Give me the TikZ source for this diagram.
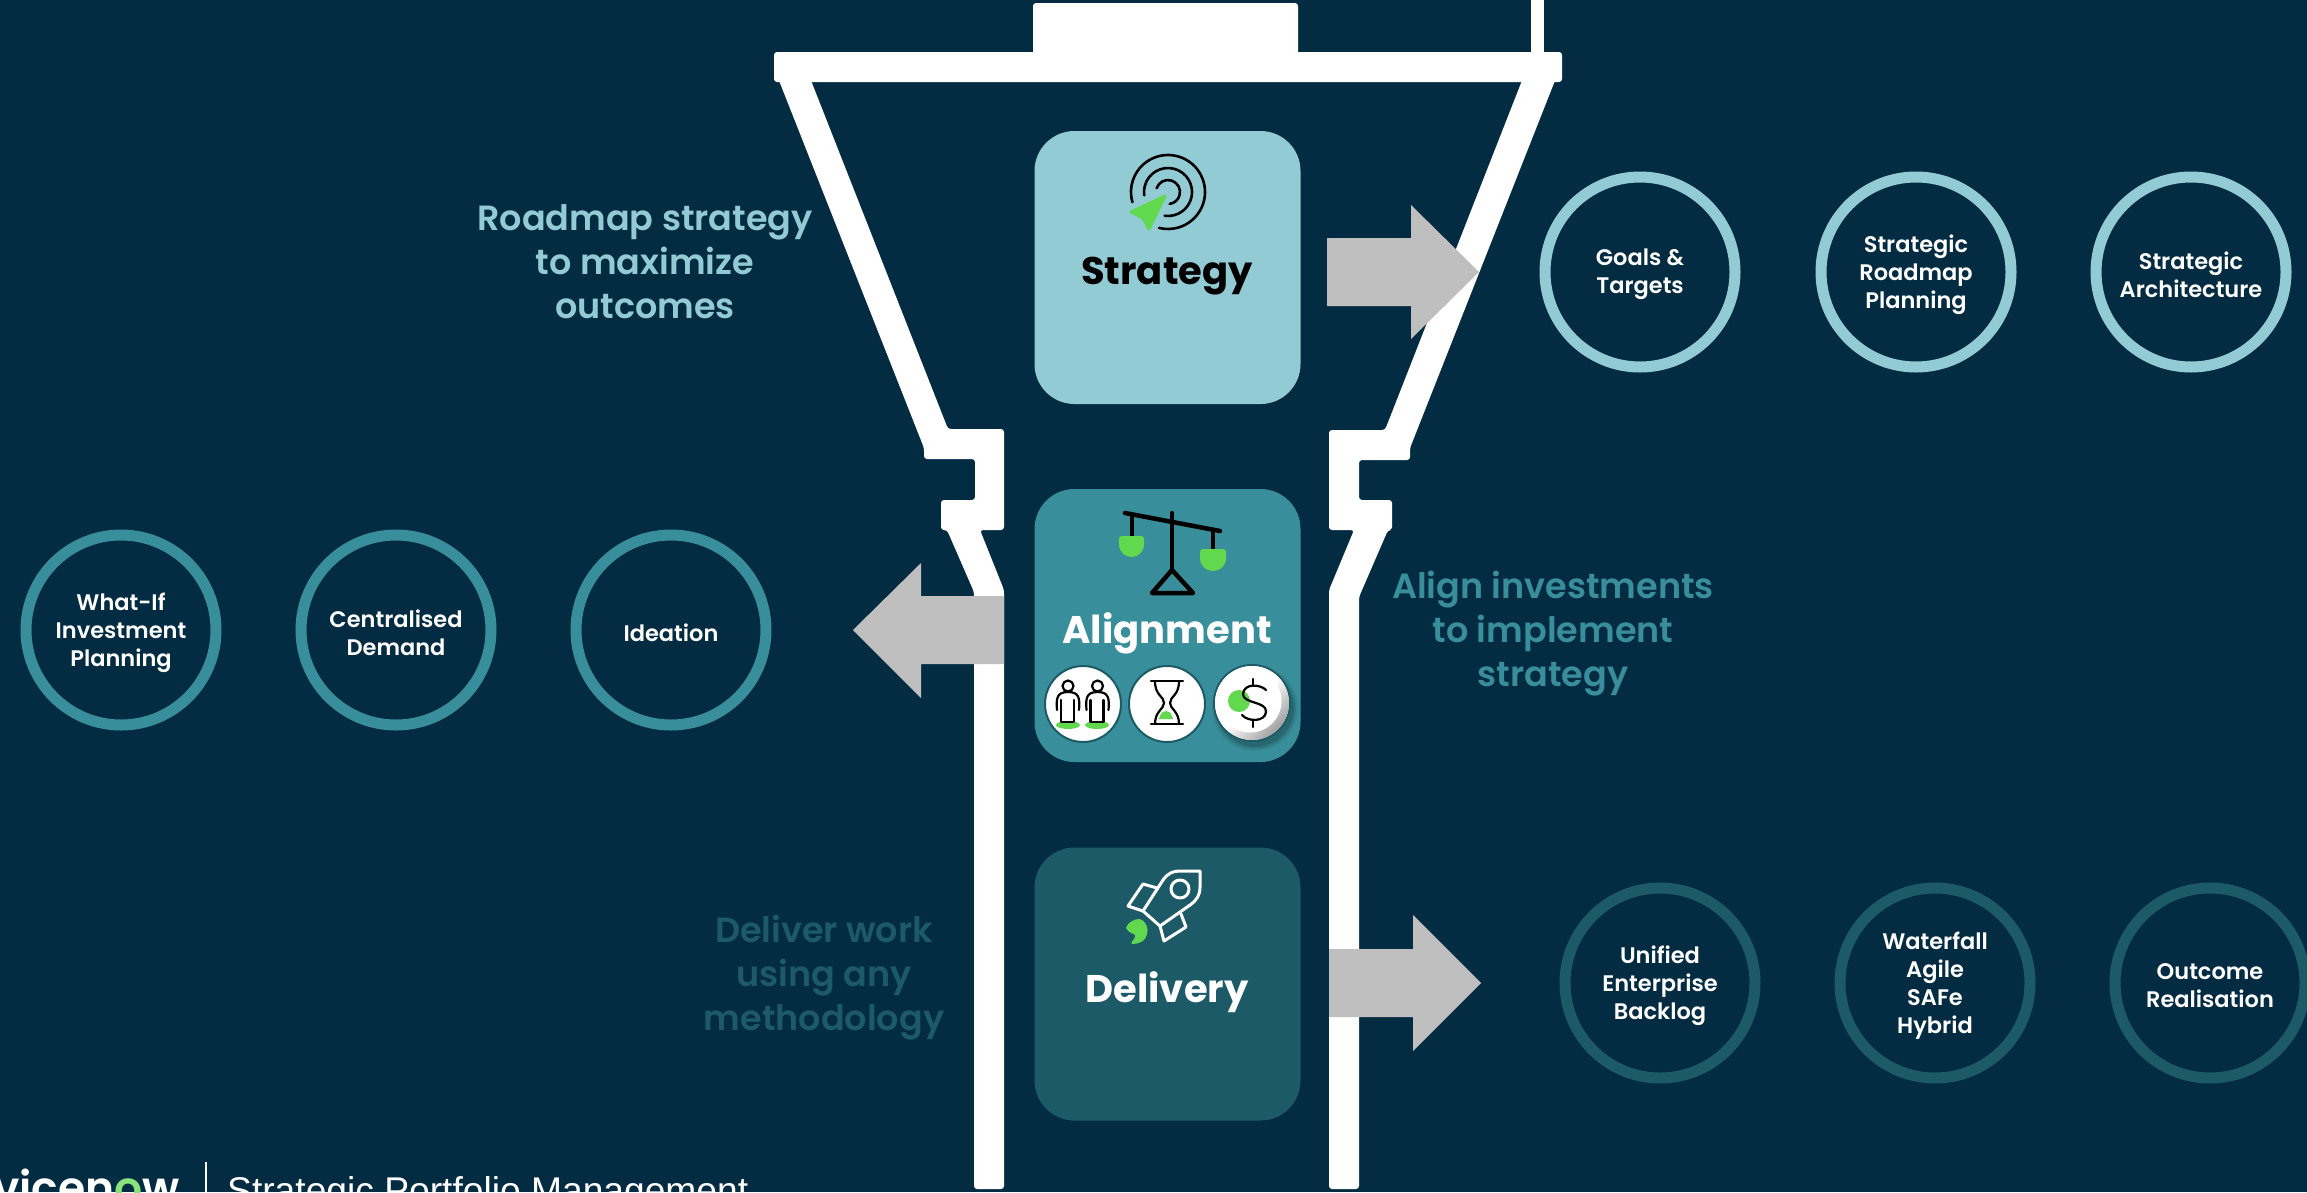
\documentclass[tikz,border=0pt]{standalone}
\usepackage{fontspec}
\setmainfont{Poppins}[BoldFont={Poppins SemiBold}]
\newfontfamily\heavyfont{Poppins}[UprightFont={* Bold}]
\newfontfamily\footfont{Liberation Sans}
\usetikzlibrary{calc}
\definecolor{bgc}{HTML}{032C43}
\definecolor{stc}{HTML}{93CBD5}
\definecolor{alc}{HTML}{388E9A}
\definecolor{dec}{HTML}{1C5A68}
\definecolor{grayc}{HTML}{BFBFBF}
\definecolor{greenc}{HTML}{62D84E}
\tikzset{
  x=1pt,y=-1pt,
  wall/.style={fill=white,draw=none,rounded corners=3pt},
  blockarrow/.style={fill=grayc,draw=none},
  phase/.style={draw=none,rounded corners=40pt,minimum width=266pt,minimum height=273pt,inner sep=0pt},
  phasetext/.style={font=\heavyfont\fontsize{38.5}{40}\selectfont,inner sep=0pt},
  ring/.style={circle,line width=11pt,minimum size=190pt,inner sep=0pt},
  ringtext/.style={align=center,text=white,inner sep=0pt,yshift=-2.5pt,font=\bfseries\fontsize{22.5}{28}\selectfont},
  claim/.style={align=center,inner sep=0pt,font=\bfseries\fontsize{35}{44}\selectfont},
  icon/.style={draw=black,line width=3pt,line cap=round,line join=round},
  thin/.style={draw=black,line width=2.2pt,line cap=round,line join=round},
  badge/.style={circle,fill=white,draw=dec,line width=2pt,minimum size=76pt,inner sep=0pt},
  leaf/.style={fill=greenc,draw=none}
}
\begin{document}
\begin{tikzpicture}
\useasboundingbox (0,0) rectangle (2307,1192);
\fill[bgc] (0,0) rectangle (2307,1192);
\clip (0,0) rectangle (2307,1192);
% funnel
\fill[wall] (1033,60) -- (1033,3) -- (1298,3) -- (1298,60) -- cycle;
\fill[white] (1531,-5) rectangle (1544,60);
\fill[wall] (774,52) rectangle (1562,82);
\fill[wall] (778,78) -- (810,78) -- (948,429) -- (1004,429) -- (1004,530) -- (980,530) -- (1004,590) -- (1004,1189) -- (974,1189) -- (974,592) -- (947,530) -- (941,530) -- (941,500) -- (975,500) -- (975,459) -- (924,459) -- (924,448) -- cycle;
\fill[wall] (1523,78) -- (1556,78) -- (1410,448) -- (1410,460) -- (1359,460) -- (1359,500) -- (1392,500) -- (1392,530) -- (1388,530) -- (1359,597) -- (1359,1189) -- (1329,1189) -- (1329,590) -- (1354,530) -- (1329,530) -- (1329,430) -- (1385,430) -- cycle;
% block arrows
\fill[blockarrow] (1327,238) -- (1411,238) -- (1411,205) -- (1479,272) -- (1411,339) -- (1411,306) -- (1327,306) -- cycle;
\fill[blockarrow] (1004,596) -- (921,596) -- (921,563) -- (853,630) -- (921,698) -- (921,664) -- (1004,664) -- cycle;
\fill[blockarrow] (1329,949) -- (1413,949) -- (1413,915) -- (1481,983) -- (1413,1051) -- (1413,1017) -- (1329,1017) -- cycle;
% phase boxes
\node[phase,fill=stc] (strategybox) at (1167.5,267.5) {};
\node[phase,fill=alc] (alignmentbox) at (1167.5,625.5) {};
\node[phase,fill=dec] (deliverybox) at (1167.5,984) {};
\node[phasetext,text=black] (strategylabel) at (1167,276) {Strategy};
\node[phasetext,text=white] (alignmentlabel) at (1167,633) {Alignment};
\node[phasetext,text=white] (deliverylabel) at (1167,992) {Delivery};
% claims
\node[claim,text=stc] (claimstrategy) at (645,262) {Roadmap strategy\\to maximize\\outcomes};
\node[claim,text=alc] (claimalign) at (1553,634) {Align investments\\to implement\\strategy};
\node[claim,text=dec] (claimdeliver) at (824,978) {Deliver work\\using any\\methodology};
% rings
\node[ring,draw=stc,label={[ringtext]center:Goals \&\\Targets}] (goals) at (1640,272) {};
\node[ring,draw=stc,label={[ringtext]center:Strategic\\Roadmap\\Planning}] (roadmap) at (1916,272) {};
\node[ring,draw=stc,label={[ringtext]center:Strategic\\Architecture}] (architecture) at (2191,272) {};
\node[ring,draw=alc,label={[ringtext]center:What-If\\Investment\\Planning}] (whatif) at (121,630) {};
\node[ring,draw=alc,label={[ringtext]center:Centralised\\Demand}] (demand) at (396,630) {};
\node[ring,draw=alc,label={[ringtext]center:Ideation}] (ideation) at (671,630) {};
\node[ring,draw=dec,label={[ringtext]center:Unified\\Enterprise\\Backlog}] (backlog) at (1660,983) {};
\node[ring,draw=dec,label={[ringtext]center:Waterfall\\Agile\\SAFe\\Hybrid}] (methods) at (1935,983) {};
\node[ring,draw=dec,label={[ringtext]center:Outcome\\Realisation}] (outcome) at (2210,983) {};
% target icon
\draw[thin,line width=2.6pt] ([shift={(196:37pt)}]1168,192) arc[start angle=196,end angle=-104,radius=37pt];
\draw[thin,line width=2.6pt] ([shift={(188:24pt)}]1168,192) arc[start angle=188,end angle=-98,radius=24pt];
\draw[thin,line width=2.6pt] ([shift={(162:12pt)}]1168,192) arc[start angle=162,end angle=-82,radius=12pt];
\fill[greenc,draw=greenc,line width=3pt,line join=round] (1165,196) -- (1131,212) -- (1143,218) -- (1149,229) -- cycle;
% scales icon
\draw[icon,line width=4.5pt] (1125,513) -- (1220,531);
\draw[icon,line width=4.5pt] (1172,513) -- (1172,570);
\draw[icon,line width=4.5pt] (1172,570) -- (1152,593) -- (1193,593) -- cycle;
\draw[icon,line width=4.5pt] (1132,515) -- (1132,536);
\draw[icon,line width=4.5pt] (1213,530) -- (1213,549);
\fill[leaf] (1119,539) .. controls (1119,537) and (1120,536) .. (1122,536) -- (1141,536) .. controls (1143,536) and (1144,537) .. (1144,539) -- (1144,544) .. controls (1144,552) and (1138,557) .. (1131.5,557) .. controls (1125,557) and (1119,552) .. (1119,544) -- cycle;
\fill[leaf] (1200,552) .. controls (1200,550) and (1201,549) .. (1203,549) -- (1223,549) .. controls (1225,549) and (1226,550) .. (1226,552) -- (1226,558) .. controls (1226,566) and (1220,571) .. (1213,571) .. controls (1206,571) and (1200,566) .. (1200,558) -- cycle;
% badges
\node[badge] (peoplebadge) at (1083,704) {};
\node[badge] (timebadge) at (1167,704) {};
% people
\fill[leaf] (1068,725) ellipse[x radius=12pt,y radius=4pt];
\fill[leaf] (1097,725) ellipse[x radius=12pt,y radius=4pt];
\foreach \dx in {0,29.5}{
  \begin{scope}[xshift=\dx pt]
  \draw[thin] (1068,686) circle[radius=5.5pt];
  \draw[thin] (1057,710) .. controls (1056,698) and (1057,692) .. (1068,692) .. controls (1079,692) and (1080,698) .. (1079,710);
  \draw[thin] (1061,700) -- (1061,722) -- (1074,722) -- (1074,700);
  \end{scope}
}
% hourglass
\fill[leaf] (1159,719) .. controls (1161,712) and (1163,711) .. (1166,711) .. controls (1169,711) and (1171,712) .. (1173,719) -- cycle;
\draw[thin] (1151,681) -- (1183,681);
\draw[thin] (1151,724) -- (1183,724);
\draw[thin] (1155,681) .. controls (1155,696) and (1164,696) .. (1164,703) .. controls (1164,709) and (1155,711) .. (1155,724);
\draw[thin] (1179,681) .. controls (1179,696) and (1170,696) .. (1170,703) .. controls (1170,709) and (1179,711) .. (1179,724);
% dollar badge
\foreach \o/\r in {0.06/43,0.09/41,0.14/39}{\fill[black,opacity=\o] (1255,708) circle[radius=\r pt];}
\node[circle,fill=white,draw=dec,line width=2pt,minimum size=76pt,inner sep=0pt] (moneybadge) at (1252,703) {};
\shade[top color=white,bottom color=gray!75,middle color=white,shading angle=45] (1252,703) circle[radius=37pt];
\fill[white] (1250,701) circle[radius=31.5pt];
\fill[leaf] (1239,701) circle[radius=11pt];
\draw[thin] (1266,690) .. controls (1260,684) and (1244,683) .. (1243,694) .. controls (1243,704) and (1267,701) .. (1266,712) .. controls (1265,722) and (1248,722) .. (1242,715);
\draw[thin] (1253,679) -- (1253,685);
\draw[thin] (1253,721) -- (1253,727);
% rocket
\begin{scope}[draw=white,line width=3pt,line join=round,line cap=round]
\draw (1200,871) -- (1180,871) .. controls (1173,871) and (1168,873) .. (1163,880) -- (1143,911) -- (1160,926) -- (1190,905) .. controls (1197,900) and (1200,895) .. (1200,887) -- cycle;
\draw (1157,888) -- (1143,884) -- (1128,906) -- (1143,911);
\draw (1181,914) -- (1186,927) -- (1164,941) -- (1160,926);
\draw (1180,889) circle[radius=9pt];
\end{scope}
\fill[leaf] (1126,928) .. controls (1127,923) and (1134,919) .. (1139,919) .. controls (1146,920) and (1149,929) .. (1147,934) .. controls (1146,941) and (1139,944) .. (1132,944) .. controls (1129,943) and (1137,938) .. (1135,935) .. controls (1134,933) and (1129,934) .. (1126,928) -- cycle;
% footer
\node[anchor=base east,inner sep=0pt,text=white,font=\bfseries\fontsize{44}{44}\selectfont] (logo) at (180,1203) {vicen\textcolor{greenc!75!white}{o}w};
\draw[white,line width=1.5pt] (206,1162) -- (206,1192);
\node[anchor=base west,inner sep=0pt,text=white,font=\footfont\fontsize{37.2}{37.2}\selectfont] (footer) at (227,1203) {Strategic Portfolio Management};
\end{tikzpicture}
\end{document}
